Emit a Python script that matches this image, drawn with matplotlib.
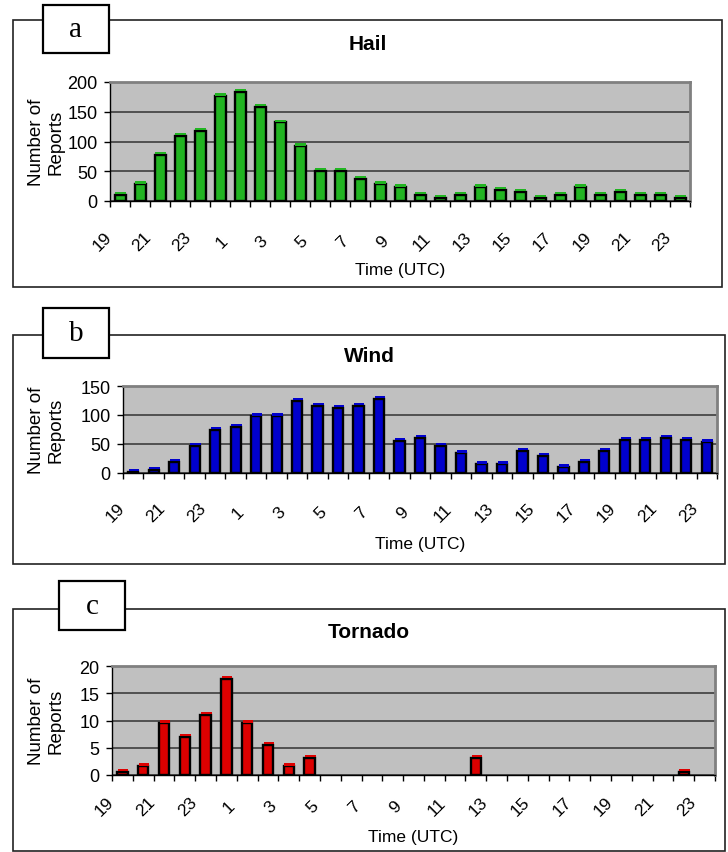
import numpy as np
import matplotlib
matplotlib.use("Agg")
import matplotlib.pyplot as plt
import matplotlib.transforms as mtransforms
from matplotlib.patches import Rectangle

plt.rcParams["font.family"] = ["Liberation Sans", "DejaVu Sans"]

# ── Data ──────────────────────────────────────────────────────────────────────
hours = ["19", "20", "21", "22", "23", "0", "1", "2", "3", "4", "5", "6", "7",
         "8", "9", "10", "11", "12", "13", "14", "15", "16", "17", "18", "19",
         "20", "21", "22", "23"]

hail = [10, 28, 78, 109, 118, 176, 184, 158, 132, 92, 51, 51, 37, 28, 23,
        10, 5, 10, 23, 19, 15, 5, 10, 23, 10, 15, 10, 10, 5]

wind = [2, 5, 19, 47, 74, 80, 98, 98, 124, 116, 112, 116, 128, 56, 61,
        47, 34, 15, 15, 38, 30, 10, 19, 38, 57, 57, 61, 57, 53]

tornado = [0.6, 1.6, 9.5, 7, 11, 17.6, 9.5, 5.5, 1.6, 3.1, 0, 0, 0, 0, 0,
           0, 0, 3.1, 0, 0, 0, 0, 0, 0, 0, 0, 0, 0.6, 0]

W, H = 728, 853

# panel layout in pixels: frame (l, t, r, b), label box, plot area, text rows
panels = [
    dict(letter="a", title="Hail", values=hail, color="#22B422",
         ymax=200, ystep=50, bar_w=0.55,
         frame=(13, 21, 722, 288), box=(43, 6, 109, 54),
         plot=(110, 83, 690, 202), title_y=45, tick_y=242, xlabel_y=270),
    dict(letter="b", title="Wind", values=wind, color="#0000CC",
         ymax=150, ystep=50, bar_w=0.5,
         frame=(13, 336, 725, 565), box=(43, 309, 109, 359),
         plot=(123, 387, 717, 474), title_y=357, tick_y=513, xlabel_y=545),
    dict(letter="c", title="Tornado", values=tornado, color="#DD0000",
         ymax=20, ystep=5, bar_w=0.5,
         frame=(13, 610, 725, 852), box=(59, 582, 125, 631),
         plot=(112, 667, 715, 776), title_y=633, tick_y=807, xlabel_y=838),
]


def fig_rect(box):
    l, t, r, b = box
    return l / W, 1 - b / H, (r - l) / W, (b - t) / H


fig = plt.figure(figsize=(W / 100, H / 100), dpi=100)

x = np.arange(len(hours))

for p in panels:
    # outer frame
    fl, fb, fw, fh = fig_rect(p["frame"])
    fig.add_artist(Rectangle((fl, fb), fw, fh, transform=fig.transFigure,
                             fill=False, ec="#222222", lw=1.2, zorder=1))

    # chart
    ax = fig.add_axes(fig_rect(p["plot"]))
    ax.set_facecolor("#C0C0C0")
    vals = np.array(p["values"], dtype=float)
    nz = vals > 0
    ax.bar(x[nz], vals[nz], width=p["bar_w"], color=p["color"],
           edgecolor="black", linewidth=1.7, zorder=3)
    # coloured top face (Excel 3-D look)
    plot_h = p["plot"][3] - p["plot"][1]
    cap = p["ymax"] * 2.2 / plot_h
    ax.bar(x[nz] + 0.04, np.full(nz.sum(), cap), bottom=vals[nz] + cap * 0.3,
           width=p["bar_w"], color=p["color"], linewidth=0, zorder=4)

    ax.set_xlim(-0.5, len(hours) - 0.5)
    ax.set_ylim(0, p["ymax"])
    ax.set_yticks(np.arange(0, p["ymax"] + 1, p["ystep"]))
    ax.yaxis.grid(True, color="#333333", lw=1.1)
    ax.set_axisbelow(True)
    ax.tick_params(axis="y", length=4, width=1, pad=5, labelsize=13)

    # labels every other hour, tick marks between categories
    pl, pt, pr, pb = p["plot"]
    ax.set_xticks(x[::2])
    ax.set_xticklabels(hours[::2])
    ax.set_xticks(np.arange(-0.5, len(hours), 1), minor=True)
    ax.tick_params(axis="x", which="major", length=0,
                   pad=(p["tick_y"] - pb) * 0.72, labelsize=12.5)
    ax.tick_params(axis="x", which="minor", length=4, width=1, direction="out")
    shift = mtransforms.ScaledTranslation(-0.18, 0, fig.dpi_scale_trans)
    for lab in ax.get_xticklabels():
        lab.set_rotation(45)
        lab.set_ha("center")
        lab.set_va("center")
        lab.set_transform(lab.get_transform() + shift)

    for side in ("top", "right"):
        ax.spines[side].set_color("#808080")
        ax.spines[side].set_linewidth(2)
    for side in ("left", "bottom"):
        ax.spines[side].set_color("black")
        ax.spines[side].set_linewidth(1)

    pw = pr - pl
    ax.set_ylabel("Number of\nReports", fontsize=13.5, linespacing=1.2)
    ax.yaxis.set_label_coords((46 - pl) / pw, 0.5)
    ax.yaxis.label.set_va("center")
    ax.set_xlabel("Time (UTC)", fontsize=12.5)
    ax.xaxis.set_label_coords(0.5, -(p["xlabel_y"] - pb) / plot_h)
    ax.xaxis.label.set_va("center")

    # title centred on the frame
    fcx = (p["frame"][0] + p["frame"][2]) / 2 / W
    fig.text(fcx, 1 - p["title_y"] / H, p["title"], ha="center", va="center",
             fontsize=15, fontweight="bold")

    # letter box
    bl, bb, bw, bh = fig_rect(p["box"])
    fig.add_artist(Rectangle((bl, bb), bw, bh, transform=fig.transFigure,
                             fc="white", ec="black", lw=1.6, zorder=5))
    fig.text(bl + bw / 2, bb + bh / 2, p["letter"], ha="center", va="center",
             fontsize=21, family=["Liberation Serif", "DejaVu Serif"],
             zorder=6)

fig.savefig("out.png", dpi=100, facecolor="white")
